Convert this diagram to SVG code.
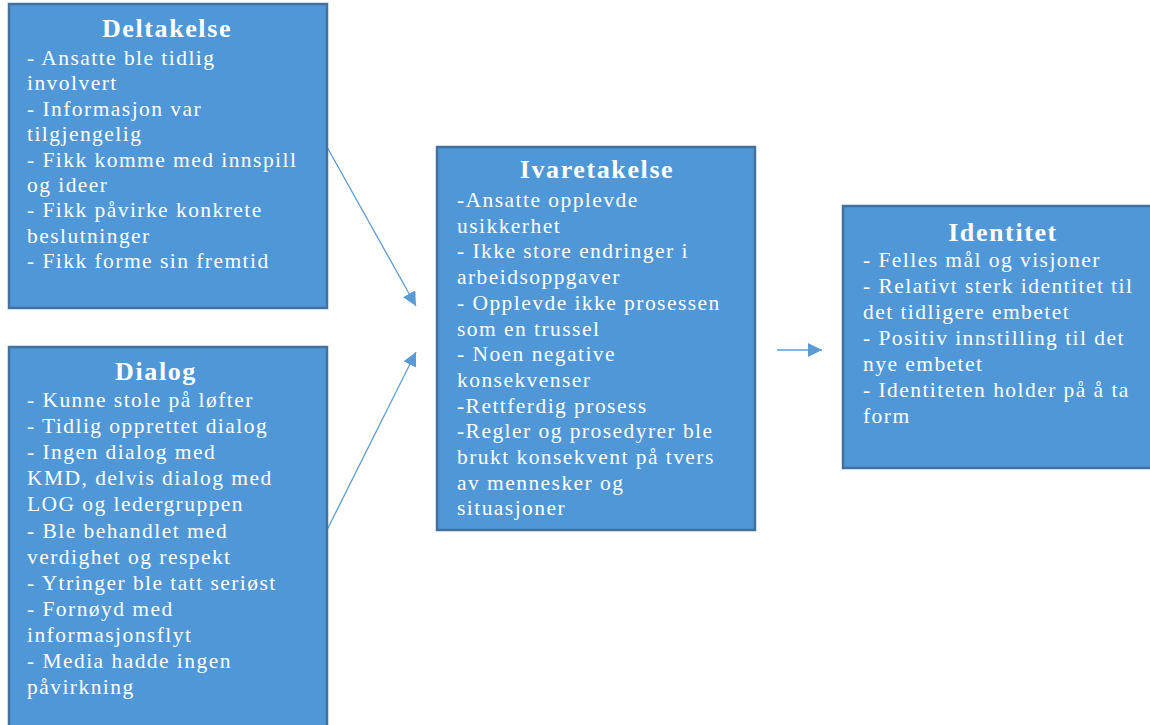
<svg xmlns="http://www.w3.org/2000/svg" width="1150" height="725" viewBox="0 0 1150 725">
<style>
.box{fill:#4f97d7;stroke:#41719c;stroke-width:2.5}
.t{font-family:"Liberation Serif","Times New Roman",serif;fill:#ffffff}
.h{font-size:26px;font-weight:bold;letter-spacing:1.6px;text-anchor:middle}
.b{font-size:21.5px;letter-spacing:1.45px}
.c{stroke:#5b9bd5;stroke-width:1.3;fill:none}
</style>
<defs>
<marker id="ah" viewBox="0 0 10 10" refX="10" refY="5" markerWidth="14" markerHeight="14" markerUnits="userSpaceOnUse" orient="auto">
<path d="M0,0 L10,5 L0,10 Z" fill="#5b9bd5"/>
</marker>
</defs>
<g id="connectors">
<line class="c" x1="327" y1="147" x2="416" y2="306" marker-end="url(#ah)"/>
<line class="c" x1="327" y1="530" x2="416" y2="352" marker-end="url(#ah)"/>
<line class="c" x1="777" y1="350" x2="822" y2="350" marker-end="url(#ah)"/>
</g>
<g id="deltakelse">
<rect class="box" x="9" y="4" width="318" height="304"/>
<text class="t h" x="167" y="37">Deltakelse</text>
<text class="t b" x="27" y="65">
<tspan x="27" dy="0">- Ansatte ble tidlig</tspan>
<tspan x="27" dy="25.4">involvert</tspan>
<tspan x="27" dy="25.4">- Informasjon var</tspan>
<tspan x="27" dy="25.4">tilgjengelig</tspan>
<tspan x="27" dy="25.4">- Fikk komme med innspill</tspan>
<tspan x="27" dy="25.4">og ideer</tspan>
<tspan x="27" dy="25.4">- Fikk påvirke konkrete</tspan>
<tspan x="27" dy="25.4">beslutninger</tspan>
<tspan x="27" dy="25.4">- Fikk forme sin fremtid</tspan>
</text>
</g>
<g id="dialog">
<rect class="box" x="9" y="347" width="318" height="385"/>
<text class="t h" x="156" y="380">Dialog</text>
<text class="t b" x="27" y="407">
<tspan x="27" dy="0">- Kunne stole på løfter</tspan>
<tspan x="27" dy="26.1">- Tidlig opprettet dialog</tspan>
<tspan x="27" dy="26.1">- Ingen dialog med</tspan>
<tspan x="27" dy="26.1">KMD, delvis dialog med</tspan>
<tspan x="27" dy="26.1">LOG og ledergruppen</tspan>
<tspan x="27" dy="26.1">- Ble behandlet med</tspan>
<tspan x="27" dy="26.1">verdighet og respekt</tspan>
<tspan x="27" dy="26.1">- Ytringer ble tatt seriøst</tspan>
<tspan x="27" dy="26.1">- Fornøyd med</tspan>
<tspan x="27" dy="26.1">informasjonsflyt</tspan>
<tspan x="27" dy="26.1">- Media hadde ingen</tspan>
<tspan x="27" dy="26.1">påvirkning</tspan>
</text>
</g>
<g id="ivaretakelse">
<rect class="box" x="437" y="147" width="318" height="383"/>
<text class="t h" x="597" y="178">Ivaretakelse</text>
<text class="t b" x="457" y="207">
<tspan x="457" dy="0">-Ansatte opplevde</tspan>
<tspan x="457" dy="25.7">usikkerhet</tspan>
<tspan x="457" dy="25.7">- Ikke store endringer i</tspan>
<tspan x="457" dy="25.7">arbeidsoppgaver</tspan>
<tspan x="457" dy="25.7">- Opplevde ikke prosessen</tspan>
<tspan x="457" dy="25.7">som en trussel</tspan>
<tspan x="457" dy="25.7">- Noen negative</tspan>
<tspan x="457" dy="25.7">konsekvenser</tspan>
<tspan x="457" dy="25.7">-Rettferdig prosess</tspan>
<tspan x="457" dy="25.7">-Regler og prosedyrer ble</tspan>
<tspan x="457" dy="25.7">brukt konsekvent på tvers</tspan>
<tspan x="457" dy="25.7">av mennesker og</tspan>
<tspan x="457" dy="25.7">situasjoner</tspan>
</text>
</g>
<g id="identitet">
<rect class="box" x="843" y="206" width="320" height="262"/>
<text class="t h" x="1003" y="241">Identitet</text>
<text class="t b" x="863" y="267">
<tspan x="863" dy="0">- Felles mål og visjoner</tspan>
<tspan x="863" dy="26">- Relativt sterk identitet til</tspan>
<tspan x="863" dy="26">det tidligere embetet</tspan>
<tspan x="863" dy="26">- Positiv innstilling til det</tspan>
<tspan x="863" dy="26">nye embetet</tspan>
<tspan x="863" dy="26">- Identiteten holder på å ta</tspan>
<tspan x="863" dy="26">form</tspan>
</text>
</g>
</svg>
